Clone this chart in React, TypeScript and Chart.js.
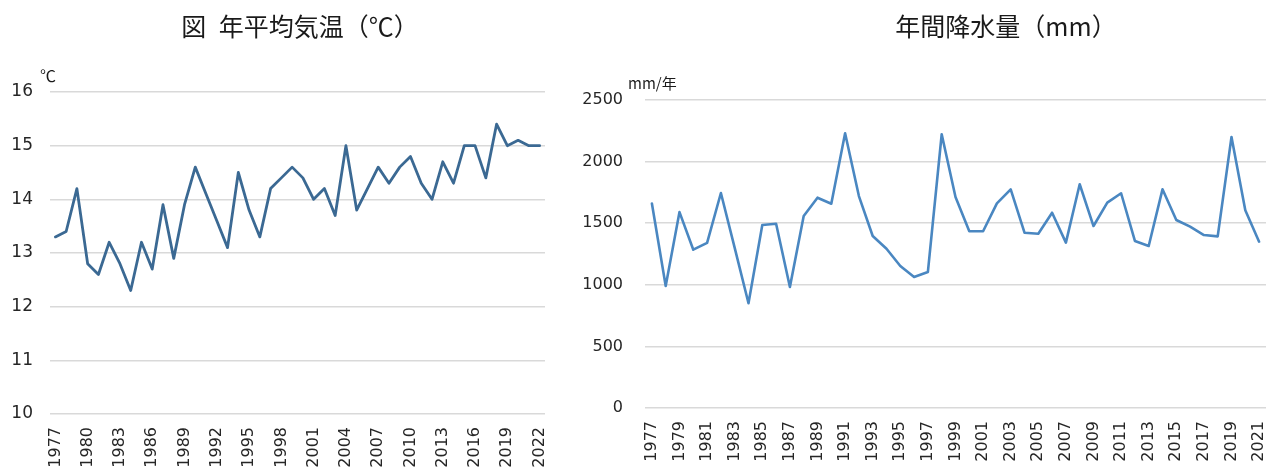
import React, { useEffect, useRef } from 'react';
import { Chart, registerables } from 'chart.js';

Chart.register(...registerables);

const tempYears = [
  '1977', '1978', '1979', '1980', '1981', '1982', '1983', '1984', '1985', '1986',
  '1987', '1988', '1989', '1990', '1991', '1992', '1993', '1994', '1995', '1996',
  '1997', '1998', '1999', '2000', '2001', '2002', '2003', '2004', '2005', '2006',
  '2007', '2008', '2009', '2010', '2011', '2012', '2013', '2014', '2015', '2016',
  '2017', '2018', '2019', '2020', '2021', '2022',
];
const tempValues = [
  13.3, 13.4, 14.2, 12.8, 12.6, 13.2, 12.8, 12.3, 13.2, 12.7,
  13.9, 12.9, 13.9, 14.6, 14.1, 13.6, 13.1, 14.5, 13.8, 13.3,
  14.2, 14.4, 14.6, 14.4, 14.0, 14.2, 13.7, 15.0, 13.8, 14.2,
  14.6, 14.3, 14.6, 14.8, 14.3, 14.0, 14.7, 14.3, 15.0, 15.0,
  14.4, 15.4, 15.0, 15.1, 15.0, 15.0,
];
const tempTickLabels = [
  '1977', '1980', '1983', '1986', '1989', '1992', '1995', '1998',
  '2001', '2004', '2007', '2010', '2013', '2016', '2019', '2022',
];

const rainYears = [
  '1977', '1978', '1979', '1980', '1981', '1982', '1983', '1984', '1985', '1986',
  '1987', '1988', '1989', '1990', '1991', '1992', '1993', '1994', '1995', '1996',
  '1997', '1998', '1999', '2000', '2001', '2002', '2003', '2004', '2005', '2006',
  '2007', '2008', '2009', '2010', '2011', '2012', '2013', '2014', '2015', '2016',
  '2017', '2018', '2019', '2020', '2021',
];
const rainValues = [
  1660, 990, 1590, 1285, 1340, 1745, 1300, 850, 1485, 1495,
  982, 1558, 1707, 1658, 2230, 1720, 1396, 1293, 1153, 1063,
  1104, 2222, 1713, 1435, 1435, 1661, 1775, 1423, 1415, 1585,
  1342, 1816, 1477, 1667, 1743, 1356, 1315, 1775, 1526, 1472,
  1404, 1393, 2200, 1605, 1350,
];
const rainTickLabels = [
  '1977', '1979', '1981', '1983', '1985', '1987', '1989', '1991', '1993', '1995',
  '1997', '1999', '2001', '2003', '2005', '2007', '2009', '2011', '2013', '2015',
  '2017', '2019', '2021',
];

const tickColor = '#262626';
const gridColor = '#d9d9d9';
const cjkFont = '"Noto Sans CJK JP", "Noto Sans", sans-serif';
const numFont = '"DejaVu Sans", Verdana, sans-serif';

const overlayText = {
  id: 'overlayText',
  afterDraw(chart: any, _args: any, opts: any) {
    const ctx = chart.ctx;
    (opts.items || []).forEach((it: any) => {
      ctx.save();
      ctx.font = it.font;
      ctx.fillStyle = it.color;
      ctx.textAlign = it.align;
      ctx.textBaseline = 'middle';
      ctx.fillText(it.text, it.x, it.y);
      ctx.restore();
    });
  },
};

function makeConfig(p: {
  labels: string[];
  values: number[];
  tickLabels: string[];
  color: string;
  lineWidth: number;
  min: number;
  max: number;
  step: number;
  padding: any;
  yWidth: number;
  yPad: number;
  yFontSize: number;
  xHeight: number;
  xPad: number;
  items: any[];
}): any {
  return {
    type: 'line',
    data: {
      labels: p.labels,
      datasets: [
        {
          data: p.values,
          borderColor: p.color,
          backgroundColor: p.color,
          borderWidth: p.lineWidth,
          pointRadius: 0,
          tension: 0,
          fill: false,
          borderJoinStyle: 'round',
          borderCapStyle: 'round',
        },
      ],
    },
    options: {
      responsive: false,
      animation: false,
      events: [],
      layout: { padding: p.padding },
      plugins: {
        legend: { display: false },
        title: { display: false },
        tooltip: { enabled: false },
        overlayText: { items: p.items },
      },
      scales: {
        x: {
          type: 'category',
          offset: true,
          grid: { display: false, drawTicks: false },
          border: { display: false },
          ticks: {
            autoSkip: false,
            minRotation: 90,
            maxRotation: 90,
            padding: p.xPad,
            color: tickColor,
            font: { family: numFont, size: 16 },
            callback: function (this: any, _v: any, i: number) {
              const lab = p.labels[i];
              return p.tickLabels.includes(lab) ? lab : '';
            },
          },
          afterFit: (s: any) => {
            s.height = p.xHeight;
            s.paddingLeft = 0;
            s.paddingRight = 0;
          },
        },
        y: {
          min: p.min,
          max: p.max,
          grid: { color: gridColor, lineWidth: 1.5, drawTicks: false },
          border: { display: false },
          ticks: {
            stepSize: p.step,
            padding: p.yPad,
            color: tickColor,
            font: { family: numFont, size: p.yFontSize },
            callback: (v: any) => String(v),
          },
          afterFit: (s: any) => {
            s.width = p.yWidth;
          },
        },
      },
    },
    plugins: [overlayText],
  };
}

function ChartCanvas({ config, left, width, height }: any) {
  const ref = useRef<HTMLCanvasElement | null>(null);
  useEffect(() => {
    if (!ref.current) return;
    const chart = new Chart(ref.current, config);
    return () => chart.destroy();
  }, []);
  return (
    <canvas
      ref={ref}
      width={width}
      height={height}
      style={{ position: 'absolute', left, top: 0, width, height }}
    />
  );
}

export default function App() {
  const tempConfig = makeConfig({
    labels: tempYears,
    values: tempValues,
    tickLabels: tempTickLabels,
    color: '#3b6993',
    lineWidth: 2.8,
    min: 10,
    max: 16,
    step: 1,
    padding: { top: 92, right: 15, bottom: 0, left: 0 },
    yWidth: 50,
    yPad: 17,
    yFontSize: 17,
    xHeight: 54,
    xPad: 13,
    items: [
      { text: '図\u2002年平均気温（℃）', x: 300, y: 26, font: `25px ${cjkFont}`, color: '#1a1a1a', align: 'center' },
      { text: '℃', x: 40, y: 76, font: `16px ${cjkFont}`, color: '#1a1a1a', align: 'left' },
    ],
  });
  const rainConfig = makeConfig({
    labels: rainYears,
    values: rainValues,
    tickLabels: rainTickLabels,
    color: '#4a87c1',
    lineWidth: 2.6,
    min: 0,
    max: 2500,
    step: 500,
    padding: { top: 100, right: 0, bottom: 0, left: 0 },
    yWidth: 85,
    yPad: 22,
    yFontSize: 16,
    xHeight: 60,
    xPad: 13,
    items: [
      { text: '年間降水量（mm）', x: 446, y: 26, font: `25px ${cjkFont}`, color: '#1a1a1a', align: 'center' },
      { text: 'mm/年', x: 68, y: 83, font: `15px ${cjkFont}`, color: '#1a1a1a', align: 'left' },
    ],
  });
  return (
    <div
      style={{
        position: 'fixed',
        left: 0,
        top: 0,
        width: 1266,
        height: 468,
        overflow: 'hidden',
        background: '#ffffff',
      }}
    >
      <ChartCanvas config={tempConfig} left={0} width={560} height={468} />
      <ChartCanvas config={rainConfig} left={560} width={706} height={468} />
    </div>
  );
}
